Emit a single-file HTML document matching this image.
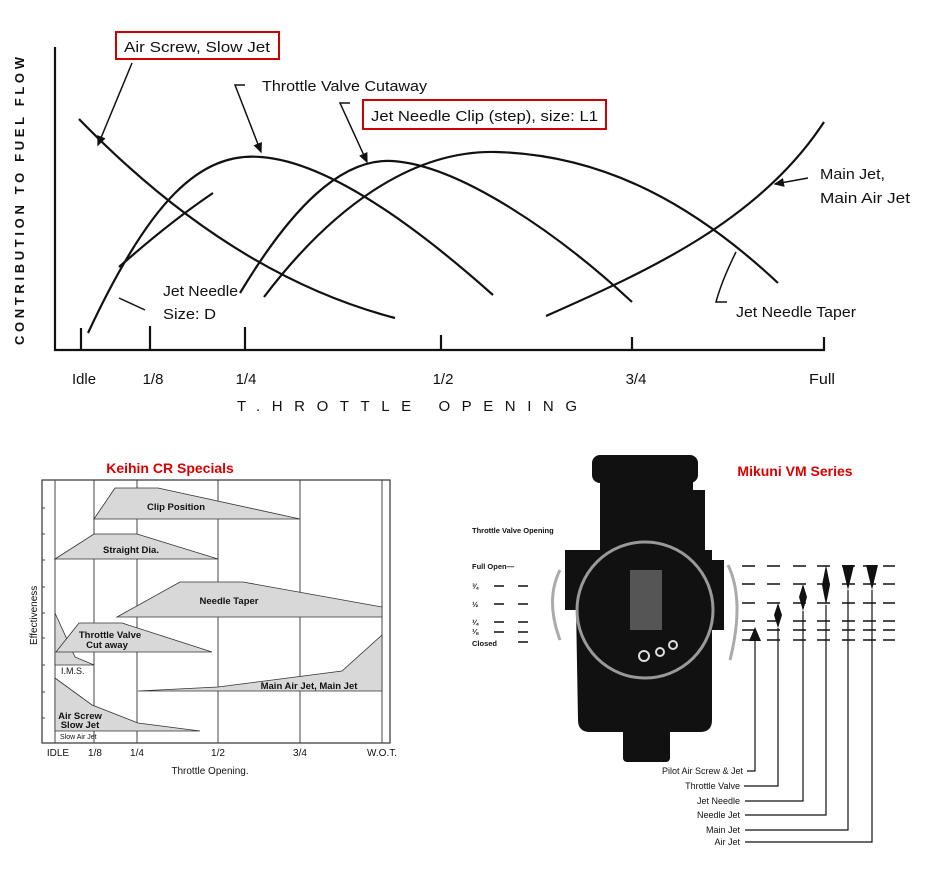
<!DOCTYPE html>
<html><head><meta charset="utf-8"><style>
html,body{margin:0;padding:0;background:#fff;}
svg{display:block;}
.h{font-family:"Liberation Sans Narrow","Liberation Sans",sans-serif;font-size:15px;fill:#111;}
.s{font-family:"Liberation Sans",sans-serif;fill:#111;}
</style></head><body>
<svg width="930" height="884" viewBox="0 0 930 884" xmlns="http://www.w3.org/2000/svg">
<rect width="930" height="884" fill="#fff"/>
<defs><marker id="ar" markerWidth="8" markerHeight="8" refX="6" refY="4" orient="auto"><path d="M0,1 L7,4 L0,7z" fill="#111"/></marker></defs>
<!-- TOP CHART -->
<g stroke="#111" fill="none" stroke-width="2.2">
<path d="M55,47 V350 H825"/>
<path d="M81,350V328 M150,350V326 M245,350V327 M441,350V335 M632,350V337 M824,350V337"/>
<path d="M79,119 Q230,275 395,318"/>
<path d="M88,333 C150,200 200,152 261,157 C330,162 420,230 493,295"/>
<path d="M119,267 Q170,222 213,193"/>
<path d="M240,293 C290,210 340,158 392,161 C460,165 560,235 632,302"/>
<path d="M264,297 C330,210 410,150 496,152 C610,155 700,210 778,283"/>
<path d="M546,316 C650,270 760,220 824,122"/>
</g>
<g stroke="#111" fill="none" stroke-width="1.5">
<path d="M132,63 L98,145" marker-end="url(#ar)"/>
<path d="M245,85 H235 L261,152" marker-end="url(#ar)"/>
<path d="M350,103 H340 L367,162" marker-end="url(#ar)"/>
<path d="M808,178 L775,184" marker-end="url(#ar)"/>
<path d="M736,252 Q722,280 716,302 H727"/>
<path d="M119,298 L145,310"/>
</g>
<rect x="116" y="32" width="163" height="27" fill="none" stroke="#c00" stroke-width="2"/>
<rect x="363" y="100" width="243" height="29" fill="none" stroke="#c00" stroke-width="2"/>
<g class="h" font-size="16">
<text x="124" y="52" textLength="146" lengthAdjust="spacingAndGlyphs">Air Screw, Slow Jet</text>
<text x="262" y="91" textLength="165" lengthAdjust="spacingAndGlyphs">Throttle Valve Cutaway</text>
<text x="371" y="121" textLength="227" lengthAdjust="spacingAndGlyphs">Jet Needle Clip (step), size: L1</text>
<text x="163" y="296" textLength="75" lengthAdjust="spacingAndGlyphs">Jet Needle</text>
<text x="163" y="319" textLength="53" lengthAdjust="spacingAndGlyphs">Size: D</text>
<text x="820" y="179" textLength="65" lengthAdjust="spacingAndGlyphs">Main Jet,</text>
<text x="820" y="203" textLength="90" lengthAdjust="spacingAndGlyphs">Main Air Jet</text>
<text x="736" y="317" textLength="120" lengthAdjust="spacingAndGlyphs">Jet Needle Taper</text>
</g>
<g class="h" text-anchor="middle" font-size="16">
<text x="84" y="384" textLength="24" lengthAdjust="spacingAndGlyphs">Idle</text><text x="153" y="384">1/8</text><text x="246" y="384">1/4</text>
<text x="443" y="384">1/2</text><text x="636" y="384">3/4</text><text x="822" y="384" textLength="26" lengthAdjust="spacingAndGlyphs">Full</text>
</g>
<text class="h" x="237" y="411" textLength="340" lengthAdjust="spacing" font-size="17">T.HROTTLE  OPENING</text>
<text class="s" font-weight="bold" font-size="13" transform="translate(24,345) rotate(-90)" textLength="288" lengthAdjust="spacing">CONTRIBUTION TO FUEL FLOW</text>

<!-- KEIHIN -->
<text class="s" x="170" y="473" text-anchor="middle" font-size="14" font-weight="bold" style="fill:#d00">Keihin CR Specials</text>
<rect x="42" y="480" width="348" height="263" fill="#fff" stroke="#333" stroke-width="1.2"/>
<g stroke="#444" stroke-width="1">
<path d="M55,480V743 M94,480V743 M137,480V743 M218,480V743 M300,480V743 M382,480V743"/>
<path d="M42,508h3M42,534h3M42,560h3M42,587h3M42,613h3M42,638h3M42,665h3M42,692h3M42,718h3"/>
</g>
<g fill="#d8d8d8" stroke="#333" stroke-width="0.8">
<path d="M94,519 L115,488 L158,488 L300,519Z"/>
<path d="M55,559 L94,534 L137,534 L218,559Z"/>
<path d="M117,617 L180,582 L243,582 L382,607 L382,617Z"/>
<path d="M55,613 L75,657 L94,665 L55,665Z"/>
<path d="M56,652 L79,623 L122,623 L212,652Z"/>
<path d="M138,691 L218,687 L342,671 L382,635 L382,691Z"/>
<path d="M55,678 L92,705 L138,723 L200,731 L55,731Z"/>
</g>
<g class="s" font-size="9.5" font-weight="bold" text-anchor="middle">
<text x="176" y="510">Clip Position</text>
<text x="131" y="553">Straight Dia.</text>
<text x="229" y="604">Needle Taper</text>
<text x="110" y="638">Throttle Valve</text>
<text x="107" y="648">Cut away</text>
<text x="309" y="689">Main Air Jet, Main Jet</text>
<text x="80" y="719">Air Screw</text>
<text x="80" y="728">Slow Jet</text>
</g>
<text class="s" x="61" y="674" font-size="9">I.M.S.</text>
<text class="s" x="60" y="739" font-size="7">Slow Air Jet</text>
<g class="s" font-size="10" text-anchor="middle">
<text x="58" y="756">IDLE</text><text x="95" y="756">1/8</text><text x="137" y="756">1/4</text>
<text x="218" y="756">1/2</text><text x="300" y="756">3/4</text><text x="382" y="756">W.O.T.</text>
<text x="210" y="774">Throttle Opening.</text>
</g>
<text class="s" font-size="10" transform="translate(37,645) rotate(-90)">Effectiveness</text>

<!-- MIKUNI -->
<text class="s" x="795" y="476" text-anchor="middle" font-size="14" font-weight="bold" style="fill:#d00">Mikuni VM Series</text>
<g fill="#111">
<rect x="592" y="455" width="106" height="28" rx="8"/>
<rect x="600" y="470" width="93" height="80"/>
<rect x="690" y="490" width="15" height="60"/>
<path d="M575,550 H712 V720 Q712,732 700,732 H590 Q578,732 578,720Z"/>
<rect x="565" y="550" width="20" height="60"/>
<rect x="706" y="560" width="18" height="70"/>
<rect x="623" y="728" width="47" height="34" rx="4"/>
</g>
<circle cx="645" cy="610" r="68" fill="none" stroke="#999" stroke-width="3"/>
<rect x="630" y="570" width="32" height="60" fill="#555"/>
<path d="M560,570 Q545,600 560,640 M728,565 Q745,600 730,660" stroke="#aaa" stroke-width="3" fill="none"/>
<g fill="none" stroke="#ddd" stroke-width="2"><circle cx="644" cy="656" r="5"/><circle cx="660" cy="652" r="4"/><circle cx="673" cy="645" r="4"/></g>
<g class="s" font-weight="bold" font-size="7.5">
<text x="472" y="533">Throttle Valve Opening</text>
<text x="472" y="569">Full Open—</text>
<text x="472" y="589">¾</text><text x="472" y="607">½</text><text x="472" y="625">¼</text><text x="472" y="634">⅛</text>
<text x="472" y="646">Closed</text>
</g>
<g stroke="#111" stroke-width="1.5">
<path d="M494,586h10M518,586h10M494,604h10M518,604h10M494,622h10M518,622h10M494,632h10M518,632h10M518,642h10"/>
<path d="M742,566h13M767,566h13M793,566h13M817,566h13M842,566h13M863,566h13M883,566h12"/>
<path d="M742,584h13M767,584h13M793,584h13M817,584h13M842,584h13M863,584h13M883,584h12"/>
<path d="M742,603h13M767,603h13M793,603h13M817,603h13M842,603h13M863,603h13M883,603h12"/>
<path d="M742,621h13M767,621h13M793,621h13M817,621h13M842,621h13M863,621h13M883,621h12"/>
<path d="M742,630h13M767,630h13M793,630h13M817,630h13M842,630h13M863,630h13M883,630h12"/>
<path d="M742,640h13M767,640h13M793,640h13M817,640h13M842,640h13M863,640h13M883,640h12"/>
</g>
<g stroke="#111" stroke-width="1.2" fill="none">
<path d="M755,640V771H747"/><path d="M778,628V786H744"/><path d="M803,611V801H745"/>
<path d="M826,605V815H745"/><path d="M848,590V830H745"/><path d="M872,590V842H745"/>
</g>
<g fill="#111">
<path d="M755,627 L761,641 L749,641Z"/>
<path d="M778,603 L782,615 L778,628 L774,615Z"/>
<path d="M803,584 L807,597 L803,611 L799,597Z"/>
<path d="M826,565 L830,585 L826,605 L822,585Z"/>
<path d="M842,565 H854 L848,590Z"/>
<path d="M866,565 H878 L872,590Z"/>
</g>
<g class="s" font-size="9" text-anchor="end">
<text x="743" y="774">Pilot Air Screw &amp; Jet</text>
<text x="740" y="789">Throttle Valve</text>
<text x="740" y="804">Jet Needle</text>
<text x="740" y="818">Needle Jet</text>
<text x="740" y="833">Main Jet</text>
<text x="740" y="845">Air Jet</text>
</g>
</svg>
</body></html>
